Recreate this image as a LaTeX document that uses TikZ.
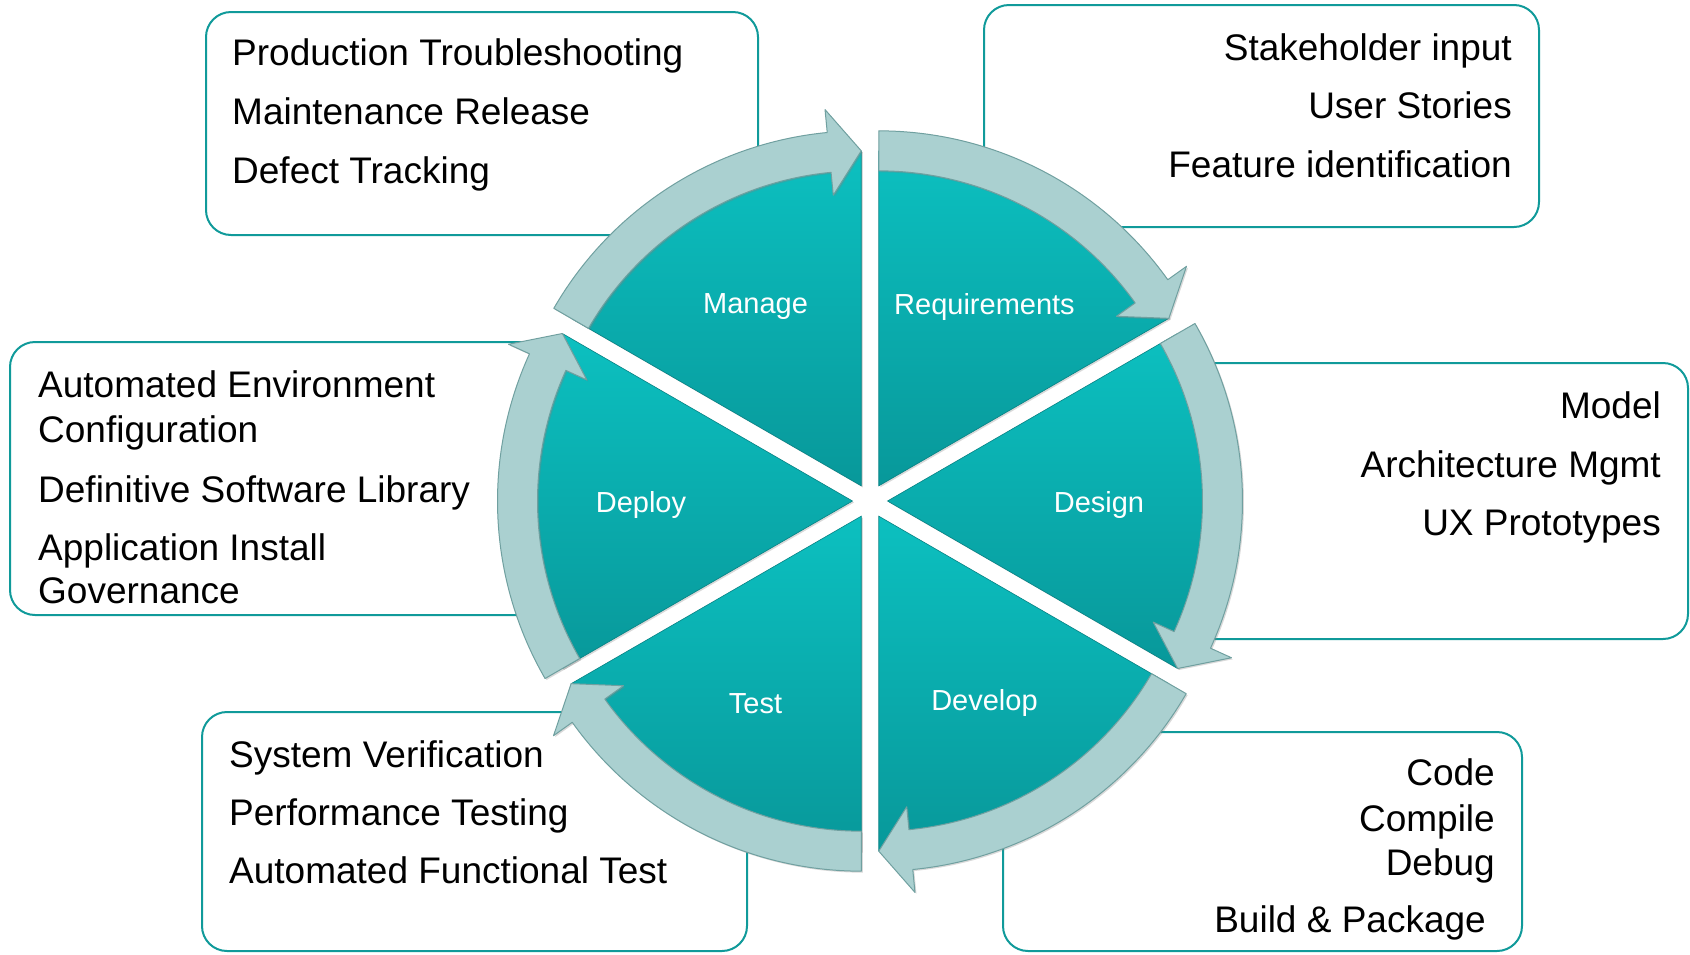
\documentclass[tikz,border=0pt]{standalone}
\usepackage{fontspec}
\setmainfont{Liberation Sans}
\usetikzlibrary{calc,shadows}

\definecolor{boxline}{RGB}{16,154,154}
\definecolor{wedgetop}{RGB}{12,192,192}
\definecolor{wedgebot}{RGB}{8,152,154}
\definecolor{bandfill}{RGB}{170,208,208}
\definecolor{bandedge}{RGB}{112,160,160}

\tikzset{
  infobox/.style={draw=boxline, line width=2pt, rounded corners=25pt, fill=white},
  item/.style={font=\fontsize{37}{44}\selectfont, inner sep=0pt},
  phase/.style={font=\fontsize{29}{35}\selectfont, text=white, inner sep=0pt, yshift=-4pt},
  wedge/.style={top color=wedgetop, bottom color=wedgebot, draw=wedgebot!85!black, line width=0.6pt,
    drop shadow={opacity=0.3, shadow xshift=1.5pt, shadow yshift=-1.5pt}},
  band/.style={fill=bandfill, draw=bandedge, line width=1pt, line join=round,
    drop shadow={opacity=0.3, shadow xshift=1.5pt, shadow yshift=-1.5pt}}
}

\begin{document}
\begin{tikzpicture}[x=1pt,y=1pt]
  \useasboundingbox (0,0) rectangle (1690,-954);

  % boxes
  \node[infobox, minimum width=552pt, minimum height=223pt] (mgbox) at (482,-123.5) {};
  \node[infobox, minimum width=555pt, minimum height=222pt] (rqbox) at (1261.5,-116) {};
  \node[infobox, minimum width=550pt, minimum height=273pt] (dpbox) at (285,-478.5) {};
  \node[infobox, minimum width=498pt, minimum height=276pt] (dsbox) at (1439,-501) {};
  \node[infobox, minimum width=545pt, minimum height=239pt] (tsbox) at (474.5,-831.5) {};
  \node[infobox, minimum width=519pt, minimum height=219pt] (dvbox) at (1262.5,-841.5) {};

  % wheel
  \begin{scope}[shift={(870,-501)}]
    \foreach \a/\name/\txt in {90/manage/Manage, 30/requirements/Requirements, -30/design/Design,
                               -90/develop/Develop, -150/test/Test, 150/deploy/Deploy}{
      \pgfmathsetmacro\b{\a+60}
      \pgfmathsetmacro\h{\a+5.5}
      \pgfmathsetmacro\m{\a+30}
      \begin{scope}[shift={(\m:17.5)}]
        \draw[wedge] (0,0) -- (\a:335) arc[start angle=\a, end angle=\b, radius=335] -- cycle;
        \draw[band] (\b:315) arc[start angle=\b, end angle=\h, radius=315] -- (\h:292) -- (\a:335)
          -- (\h:378) -- (\h:355) arc[start angle=\h, end angle=\b, radius=355] -- cycle;
      \end{scope}
      \node[phase] (\name) at (\m:229) {\txt};
    }
  \end{scope}

  % box texts
  \foreach \y/\t [count=\i] in {65/Production Troubleshooting, 124/Maintenance Release, 183/Defect Tracking}
    \node[item, anchor=base west] (mg\i) at (232,-\y) {\t};
  \foreach \y/\t [count=\i] in {60/Stakeholder input, 118/User Stories, 177/Feature identification}
    \node[item, anchor=base east] (rq\i) at (1512,-\y) {\t};
  \foreach \y/\t [count=\i] in {397/Automated Environment, 442/Configuration, 502/Definitive Software Library,
                                560/Application Install, 603/Governance}
    \node[item, anchor=base west] (dp\i) at (38,-\y) {\t};
  \foreach \y/\t [count=\i] in {418/Model, 477/Architecture Mgmt, 535/UX Prototypes}
    \node[item, anchor=base east] (ds\i) at (1661,-\y) {\t};
  \foreach \y/\t [count=\i] in {767/System Verification, 825/Performance Testing, 883/Automated Functional Test}
    \node[item, anchor=base west] (ts\i) at (229,-\y) {\t};
  \foreach \y/\t [count=\i] in {785/Code, 831/Compile, 875/Debug}
    \node[item, anchor=base east] (dv\i) at (1495,-\y) {\t};
  \node[item, anchor=base east] (dv4) at (1486,-932) {Build \& Package};
\end{tikzpicture}
\end{document}
